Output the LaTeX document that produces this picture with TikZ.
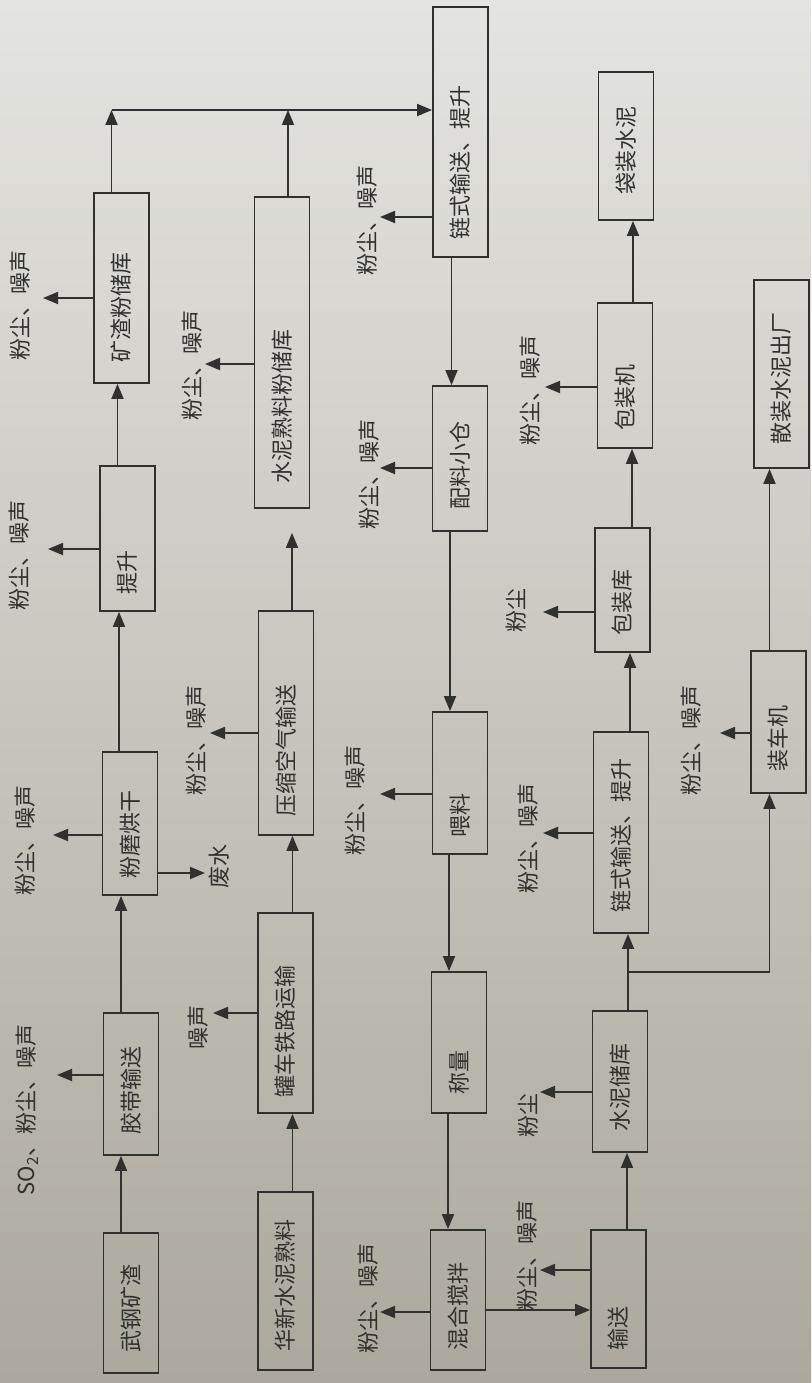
\documentclass[tikz,border=0pt]{standalone}
\usepackage{fontspec}
\newfontfamily\cjk{Noto Sans CJK SC}
\usetikzlibrary{arrows.meta,calc}
\definecolor{ink}{RGB}{48,48,46}
\definecolor{bgtop}{RGB}{228,228,224}
\definecolor{bgmid}{RGB}{206,204,198}
\definecolor{bgbot}{RGB}{172,168,158}
\tikzset{
  box/.style={draw=ink, line width=1.8pt, minimum width=55pt, inner sep=0pt},
  txt/.style={text=ink, font=\cjk\fontsize{22}{26}\selectfont, inner sep=0pt},
  arr/.style={draw=ink, line width=1.8pt, -{Triangle[length=15pt,width=12pt]}},
}
\begin{document}
\begin{tikzpicture}[x=1pt,y=-1pt]
\useasboundingbox (0,0) rectangle (811,1383);
\shade[top color=bgtop, middle color=bgmid, bottom color=bgbot] (0,0) rectangle (811,1383);

% ---------- column 1 ----------
\node[box, minimum height=140pt] (b11) at (131,1303) {};
\node[box, minimum height=142pt] (b12) at (131,1084) {};
\node[box, minimum height=143pt] (b13) at (130,823.5) {};
\node[box, minimum height=145pt] (b14) at (127.5,538.5) {};
\node[box, minimum height=190pt] (b15) at (121.5,288) {};
\node[txt] (t11) at (131,1308) {\rotatebox{90}{武钢矿渣}};
\node[txt] (t12) at (131,1090) {\rotatebox{90}{胶带输送}};
\node[txt] (t13) at (130,834) {\rotatebox{90}{粉磨烘干}};
\node[txt] (t14) at (127.5,572) {\rotatebox{90}{提升}};
\node[txt] (t15) at (121.5,307) {\rotatebox{90}{矿渣粉储库}};

% ---------- column 2 ----------
\node[box, minimum height=178pt] (b21) at (285.5,1281) {};
\node[box, minimum height=200pt] (b22) at (285.5,1013) {};
\node[box, minimum height=224pt] (b23) at (286,723) {};
\node[box, minimum height=311pt] (b24) at (282,352.5) {};
\node[txt] (t21) at (285.5,1285) {\rotatebox{90}{华新水泥熟料}};
\node[txt] (t22) at (285.5,1031) {\rotatebox{90}{罐车铁路运输}};
\node[txt] (t23) at (286,750) {\rotatebox{90}{压缩空气输送}};
\node[txt] (t24) at (282,406) {\rotatebox{90}{水泥熟料粉储库}};

% ---------- column 3 ----------
\node[box, minimum height=250pt] (b31) at (460.5,132) {};
\node[box, minimum height=145pt] (b32) at (460,458.5) {};
\node[box, minimum height=142pt] (b33) at (460,783) {};
\node[box, minimum height=141pt] (b34) at (459,1042.5) {};
\node[box, minimum height=140pt] (b35) at (458,1300) {};
\node[txt] (t31) at (460.5,162) {\rotatebox{90}{链式输送、提升}};
\node[txt] (t32) at (460,465) {\rotatebox{90}{配料小仓}};
\node[txt] (t33) at (460,815) {\rotatebox{90}{喂料}};
\node[txt] (t34) at (459,1072) {\rotatebox{90}{称量}};
\node[txt] (t35) at (458,1306) {\rotatebox{90}{混合搅拌}};

% ---------- column 4 ----------
\node[box, minimum height=138pt] (b41) at (618.5,1299) {};
\node[box, minimum height=141pt] (b42) at (620,1081.5) {};
\node[box, minimum height=201pt] (b43) at (621,832.5) {};
\node[box, minimum height=124pt] (b44) at (622.5,590) {};
\node[box, minimum height=145pt] (b45) at (625,375.5) {};
\node[box, minimum height=148pt] (b46) at (626,146) {};
\node[txt] (t41) at (618.5,1328) {\rotatebox{90}{输送}};
\node[txt] (t42) at (620,1087) {\rotatebox{90}{水泥储库}};
\node[txt] (t43) at (621,835) {\rotatebox{90}{链式输送、提升}};
\node[txt] (t44) at (622.5,602) {\rotatebox{90}{包装库}};
\node[txt] (t45) at (625,397) {\rotatebox{90}{包装机}};
\node[txt] (t46) at (626,150) {\rotatebox{90}{袋装水泥}};

% ---------- column 5 ----------
\node[box, minimum height=142pt] (b51) at (778.5,722) {};
\node[box, minimum height=188pt] (b52) at (781.5,374) {};
\node[txt] (t51) at (778.5,738) {\rotatebox{90}{装车机}};
\node[txt] (t52) at (781.5,378) {\rotatebox{90}{散装水泥出厂}};

% ---------- main flow ----------
\draw[arr] ([xshift=-10]b11.north) -- ([xshift=-10]b11.north |- b12.south);
\draw[arr] ([xshift=-10]b12.north) -- ([xshift=-10]b12.north |- b13.south);
\draw[arr] ([xshift=-11]b13.north) -- ([xshift=-11]b13.north |- b14.south);
\draw[arr] ([xshift=-10]b14.north) -- ([xshift=-10]b14.north |- b15.south);

\draw[arr] ([xshift=7]b21.north) -- ([xshift=7]b21.north |- b22.south);
\draw[arr] ([xshift=7]b22.north) -- ([xshift=7]b22.north |- b23.south);
\draw[arr, shorten >=24pt] ([xshift=6]b23.north) -- ([xshift=6]b23.north |- b24.south);

\coordinate (m1) at (0,110);
\draw[arr] ([xshift=-10]b15.north) -- ([xshift=-10]b15.north |- m1);
\draw[arr] ([xshift=6]b24.north) -- ([xshift=6]b24.north |- m1);
\draw[arr] ([xshift=-10]b15.north |- m1) -- (m1 -| b31.west);

\draw[arr] ([xshift=-9]b31.south) -- ([xshift=-9]b31.south |- b32.north);
\draw[arr] ([xshift=-10]b32.south) -- ([xshift=-10]b32.south |- b33.north);
\draw[arr] ([xshift=-11]b33.south) -- ([xshift=-11]b33.south |- b34.north);
\draw[arr] ([xshift=-11]b34.south) -- ([xshift=-11]b34.south |- b35.north);

\coordinate (h1) at (0,1310);
\draw[arr] (b35.east |- h1) -- (b41.west |- h1);

\draw[arr] ([xshift=8.5]b41.north) -- ([xshift=8.5]b41.north |- b42.south);
\draw[arr] ([xshift=8]b42.north) -- ([xshift=8]b42.north |- b43.south);
\draw[arr] ([xshift=9]b43.north) -- ([xshift=9]b43.north |- b44.south);
\draw[arr] ([xshift=9.5]b44.north) -- ([xshift=9.5]b44.north |- b45.south);
\draw[arr] ([xshift=8]b45.north) -- ([xshift=8]b45.north |- b46.south);

\coordinate (h2) at (0,972);
\coordinate (br) at ([xshift=8]b42.north |- h2);
\draw[arr] (br) -| ([xshift=-9]b51.south);
\draw[arr] ([xshift=-9]b51.north) -- ([xshift=-9]b51.north |- b52.south);

% ---------- emissions ----------
\coordinate (e15) at (43,298);
\draw[arr] (b15.west |- e15) -- (e15);
\node[txt] (l15) at (20,305) {\rotatebox{90}{粉尘、噪声}};
\coordinate (e14) at (48,549);
\draw[arr] (b14.west |- e14) -- (e14);
\node[txt] (l14) at (19,555) {\rotatebox{90}{粉尘、噪声}};
\coordinate (e13) at (53,835);
\draw[arr] (b13.west |- e13) -- (e13);
\node[txt] (l13) at (25,840) {\rotatebox{90}{粉尘、噪声}};
\coordinate (w13) at (205,873);
\draw[arr] (b13.east |- w13) -- (w13);
\node[txt] (lw13) at (219,866) {\rotatebox{90}{废水}};
\coordinate (e12) at (57,1075);
\draw[arr] (b12.west |- e12) -- (e12);
\node[txt] (l12) at (27,1110) {\rotatebox{90}{SO\textsubscript{2}、粉尘、噪声}};

\coordinate (e24) at (205,364);
\draw[arr] (b24.west |- e24) -- (e24);
\node[txt] (l24) at (192,365) {\rotatebox{90}{粉尘、噪声}};
\coordinate (e23) at (210,733);
\draw[arr] (b23.west |- e23) -- (e23);
\node[txt] (l23) at (196,740) {\rotatebox{90}{粉尘、噪声}};
\coordinate (e22) at (213,1013);
\draw[arr] (b22.west |- e22) -- (e22);
\node[txt] (l22) at (198,1027) {\rotatebox{90}{噪声}};

\coordinate (e31) at (380,217);
\draw[arr] (b31.west |- e31) -- (e31);
\node[txt] (l31) at (367,220) {\rotatebox{90}{粉尘、噪声}};
\coordinate (e32) at (380,468);
\draw[arr] (b32.west |- e32) -- (e32);
\node[txt] (l32) at (369,474) {\rotatebox{90}{粉尘、噪声}};
\coordinate (e33) at (380,794);
\draw[arr] (b33.west |- e33) -- (e33);
\node[txt] (l33) at (355,800) {\rotatebox{90}{粉尘、噪声}};
\coordinate (e35) at (380,1312);
\draw[arr] (b35.west |- e35) -- (e35);
\node[txt] (l35) at (368,1298) {\rotatebox{90}{粉尘、噪声}};

\coordinate (e41) at (540,1270);
\draw[arr] (b41.west |- e41) -- (e41);
\node[txt] (l41) at (527,1255) {\rotatebox{90}{粉尘、噪声}};
\coordinate (e42) at (540,1092);
\draw[arr] (b42.west |- e42) -- (e42);
\node[txt] (l42) at (528,1115) {\rotatebox{90}{粉尘}};
\coordinate (e43) at (543,833);
\draw[arr] (b43.west |- e43) -- (e43);
\node[txt] (l43) at (528,838) {\rotatebox{90}{粉尘、噪声}};
\coordinate (e44) at (543,612);
\draw[arr] (b44.west |- e44) -- (e44);
\node[txt] (l44) at (516,610) {\rotatebox{90}{粉尘}};
\coordinate (e45) at (545,387);
\draw[arr] (b45.west |- e45) -- (e45);
\node[txt] (l45) at (530,390) {\rotatebox{90}{粉尘、噪声}};

\coordinate (e51) at (720,733);
\draw[arr] (b51.west |- e51) -- (e51);
\node[txt] (l51) at (691,740) {\rotatebox{90}{粉尘、噪声}};
\end{tikzpicture}
\end{document}
